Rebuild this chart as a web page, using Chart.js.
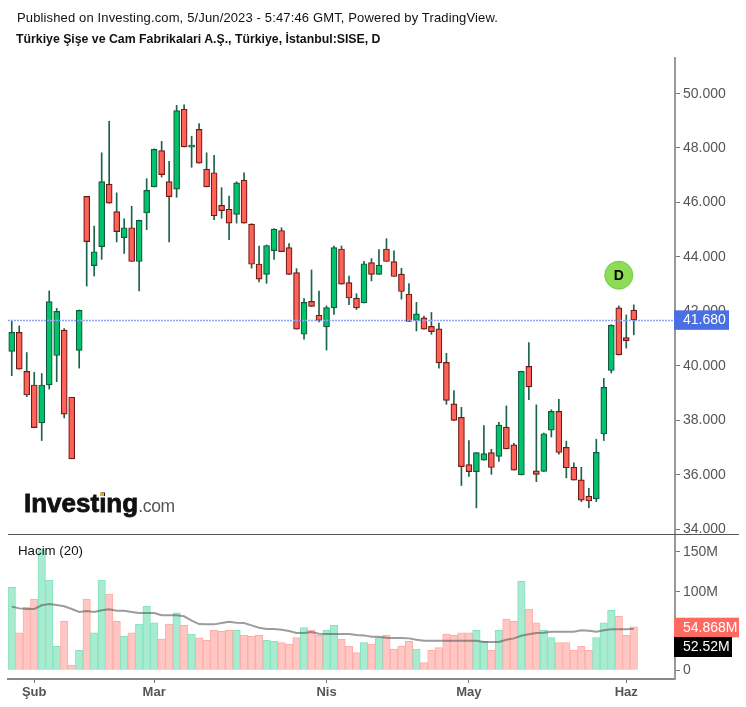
<html>
<head>
<meta charset="utf-8">
<script src="https://cdn.jsdelivr.net/npm/chart.js"></script>
<style>
    body { margin: 0; background: #fff; font-family: "Liberation Sans", Arial, sans-serif; overflow: hidden; }
    #page { position: relative; width: 746px; height: 707px; overflow: hidden; }
    canvas { position: absolute; left: 0; }
    .txt { position: absolute; white-space: nowrap; color: #111; }
</style>
</head>
<body>
<div id="page">
    <canvas id="priceChart" width="746" height="540" style="top:0"></canvas>
    <canvas id="volumeChart" width="746" height="173" style="top:534px"></canvas>
    <div class="txt" style="left:17px;top:10px;font-size:13px;letter-spacing:0.14px;line-height:15px">Published on Investing.com, 5/Jun/2023 - 5:47:46 GMT, Powered by TradingView.</div>
    <div class="txt" style="left:16px;top:32px;font-size:12.3px;font-weight:bold">Türkiye Şişe ve Cam Fabrikalari A.Ş., Türkiye, İstanbul:SISE, D</div>
    <div class="txt" style="left:18px;top:543px;font-size:13.3px">Hacim (20)</div>
    <div class="txt" style="left:24px;top:488px;font-size:26px;font-weight:bold;color:#111;-webkit-text-stroke:0.8px #111;text-shadow:0 0 3px #fff">Investing<span style="font-size:17.5px;font-weight:normal;color:#555;-webkit-text-stroke:0;letter-spacing:-0.3px">.com</span></div>
    <div style="position:absolute;left:100px;top:493px;width:4px;height:3px;background:#f5a623"></div>
</div>
<script>
    var highs = [41.64,41.46,40.48,39.75,39.71,42.74,42.10,41.36,38.84,42.04,46.21,45.12,47.81,48.97,46.34,45.39,45.85,45.34,46.86,47.96,48.23,47.50,49.55,49.57,48.42,48.88,47.81,47.72,46.53,46.22,46.75,47.08,45.21,44.39,44.43,45.03,45.06,44.48,43.56,42.46,43.51,42.74,42.19,44.39,44.39,43.29,42.64,43.83,43.93,44.26,44.66,44.21,43.57,43.01,42.32,41.82,41.95,41.56,40.45,39.08,38.47,37.25,36.81,37.80,36.93,37.92,38.52,37.15,39.80,40.85,38.56,37.52,38.38,38.76,37.23,36.43,36.27,35.50,37.30,39.53,41.50,42.19,41.86,42.23];
    var lows = [39.63,39.87,38.86,37.72,37.25,39.14,39.41,38.08,36.58,39.91,42.92,43.29,43.90,45.96,44.54,44.12,43.82,42.74,44.99,46.56,46.92,44.54,46.18,48.03,47.28,47.43,46.56,45.36,45.41,44.62,45.23,45.23,43.58,43.07,43.02,43.90,44.18,43.35,41.34,40.97,42.17,41.60,40.57,41.88,42.99,42.24,42.06,42.30,43.11,43.35,43.82,43.27,42.44,41.62,41.27,41.34,41.15,39.91,38.58,37.99,35.60,35.93,34.78,36.53,36.01,36.48,36.94,36.16,35.99,38.75,35.74,36.12,37.38,36.75,35.88,35.80,35.01,34.78,35.01,37.25,39.73,40.39,40.64,41.13];
    var opens = [40.52,41.22,39.79,39.29,37.90,39.29,40.37,41.30,38.84,40.56,46.21,43.67,44.37,46.66,45.65,44.70,45.06,43.82,45.60,46.56,47.89,46.75,46.48,49.41,48.02,48.67,47.21,47.08,45.88,45.74,45.55,46.81,45.19,43.73,43.35,44.22,44.96,44.33,43.41,41.15,42.36,41.85,41.42,42.12,44.28,43.05,42.48,42.30,43.78,43.35,44.28,43.82,43.36,42.63,41.66,41.75,41.44,41.35,40.12,38.60,38.10,36.37,36.11,36.53,36.81,36.67,37.74,37.09,35.99,39.97,36.14,36.12,37.63,38.32,37.00,36.27,35.81,35.21,35.11,37.49,39.82,42.12,41.03,42.04];
    var closes = [41.22,39.87,38.92,37.72,39.29,42.35,41.99,38.22,36.58,42.03,44.55,44.18,46.75,45.96,44.92,45.06,43.82,45.33,46.43,47.94,47.01,46.20,49.36,48.03,48.09,47.43,46.56,45.50,45.69,45.23,46.71,45.23,43.72,43.17,44.41,45.01,44.18,43.35,41.34,42.32,42.17,41.66,42.13,44.33,42.99,42.48,42.12,43.74,43.35,43.69,43.82,43.27,42.72,41.62,41.90,41.34,41.25,40.10,38.72,37.99,36.29,36.11,36.81,36.77,36.26,37.82,36.94,36.16,39.79,39.22,36.01,37.50,38.32,36.81,36.25,35.80,35.06,35.03,36.82,39.20,41.48,40.39,40.92,41.68];
    var volumes = [105,47.4,80,90.2,153,114.3,30,61.8,6.4,25,90.2,47.4,114.3,96.6,61.8,42.8,47.4,58.4,80.9,60.1,39.4,58.4,72.8,56.7,45.7,41,37.7,50.4,49.1,50.4,50.4,44,42.8,44,37.7,36.4,34.7,33,41.1,53.8,50.4,44,50.4,56.7,39.4,30.1,22,34.7,33,41.1,44,26.7,30.1,36.4,26.7,9.3,25,28.4,45.7,44,47.4,47.4,50.4,36.4,25,50.4,64.8,61.8,112.7,77.5,60.1,50.4,41.1,34.7,34.7,25,30.1,25,41.1,60.1,75.8,68.2,44,54.868];
    var volumeMA = [80.5,78.3,77.5,77.5,82.2,83.9,82.6,80.9,77.5,73.7,75,73.7,75.8,77.1,75.4,75.4,73.7,72.4,72.4,72.4,69.5,69.5,69.5,68.2,62.7,58.4,58,58,59.7,61.4,60.1,59.7,56.7,53.8,52.1,52.1,51.2,49.5,47,47,48.3,46.2,45.7,45.7,45.7,45.7,44.5,44,42.4,42.4,41.1,40.7,40.7,40.2,38.5,37.3,37.3,37.3,37.3,37.3,37.3,37.3,37.3,35.6,35.6,35.6,38.5,40.2,43.6,45.3,47,47.4,48.7,48.7,48.7,48.7,50.4,50,48.7,50.4,51.7,51.7,51.7,52.52];
    var monthIndex = [3, 19, 42, 61, 82];
    var monthNames = ['Şub', 'Mar', 'Nis', 'May', 'Haz'];
    var priceTicks = [34, 36, 38, 40, 42, 44, 46, 48, 50];
    var volumeTicks = [0, 100, 150];
    var lastPrice = 41.68;
    var lastVolume = '54.868M';
    var lastMA = '52.52M';
    var dividendIndex = 81;
    var dividendPrice = 43.32;
    var slotCount = 89;

    // category slots, the last few are empty room on the right
    var labels = [];
    for (var i = 0; i < slotCount; i++) {
        var m = monthIndex.indexOf(i);
        labels.push(m >= 0 ? monthNames[m] : '');
    }

    var isUp = closes.map(function(c, i) { return c >= opens[i]; });

    function pick(up, down) {
        return isUp.map(function(u) { return u ? up : down; });
    }

    function fixAxis(scale) {
        scale.width = 71;
        scale.paddingTop = 0;
        scale.paddingBottom = 0;
    }

    function badge(ctx, x, y, w, h, color, text) {
        ctx.fillStyle = color;
        ctx.fillRect(x, y, w, h);
        ctx.fillStyle = '#fff';
        ctx.font = '14px "Liberation Sans"';
        ctx.textAlign = 'left';
        ctx.textBaseline = 'middle';
        ctx.fillText(text, x + 9, y + h / 2 + 0.5);
    }

    var priceOverlay = {
        id: 'priceOverlay',
        afterDatasetsDraw: function(chart) {
            var ctx = chart.ctx, y = chart.scales.y.getPixelForValue(lastPrice);
            ctx.save();
            ctx.strokeStyle = '#8ca2f5';
            ctx.lineWidth = 1.5;
            ctx.setLineDash([2, 1]);
            ctx.beginPath();
            ctx.moveTo(chart.chartArea.left, Math.round(y) + 0.5);
            ctx.lineTo(chart.chartArea.right, Math.round(y) + 0.5);
            ctx.stroke();
            ctx.restore();
        },
        afterDraw: function(chart) {
            var ctx = chart.ctx, y = chart.scales.y.getPixelForValue(lastPrice);
            ctx.save();
            badge(ctx, 674, y - 9.5, 55, 19.5, '#4a6fe3', lastPrice.toFixed(3));
            // dividend marker
            var dx = chart.scales.x.getPixelForValue(dividendIndex);
            var dy = chart.scales.y.getPixelForValue(dividendPrice);
            ctx.beginPath();
            ctx.arc(dx, dy, 14, 0, Math.PI * 2);
            ctx.fillStyle = '#8cdc55';
            ctx.fill();
            ctx.strokeStyle = '#74c948';
            ctx.lineWidth = 1;
            ctx.stroke();
            ctx.fillStyle = '#000';
            ctx.font = 'bold 14px "Liberation Sans"';
            ctx.textAlign = 'center';
            ctx.textBaseline = 'middle';
            ctx.fillText('D', dx, dy + 0.5);
            ctx.restore();
        }
    };

    var volumeOverlay = {
        id: 'volumeOverlay',
        afterDraw: function(chart) {
            var ctx = chart.ctx;
            ctx.save();
            ctx.fillStyle = '#555';
            ctx.fillRect(8, 0, 731, 1);
            badge(ctx, 674, 83.7, 65, 19.6, '#ff6a60', lastVolume);
            badge(ctx, 674, 103, 58, 20, '#000', lastMA);
            ctx.restore();
        }
    };

    new Chart('priceChart', {
        data: {
            labels: labels,
            datasets: [{
                type: 'bar',
                order: 2,
                data: highs.map(function(h, i) { return [lows[i], h]; }),
                backgroundColor: pick('#1c6347', '#1c6347'),
                barThickness: 1,
                grouped: false
            }, {
                type: 'bar',
                order: 1,
                data: opens.map(function(o, i) { return [o, closes[i]]; }),
                backgroundColor: pick('#00c46c', '#ff6257'),
                borderColor: pick('#125a3e', '#6e1a16'),
                borderWidth: 1.2,
                borderSkipped: false,
                barThickness: 6,
                grouped: false
            }]
        },
        options: {
            responsive: false,
            animation: false,
            events: [],
            layout: { padding: { left: 8, top: 58, right: 0, bottom: 6 } },
            plugins: { legend: { display: false }, tooltip: { enabled: false } },
            scales: {
                x: { display: false, offset: true },
                y: {
                    position: 'right',
                    min: 33.82,
                    max: 51.29,
                    afterBuildTicks: function(scale) {
                        scale.ticks = priceTicks.map(function(v) { return { value: v }; });
                    },
                    afterFit: fixAxis,
                    border: { color: '#999', width: 2 },
                    grid: { drawOnChartArea: false, color: '#777', tickLength: 5 },
                    ticks: {
                        padding: 3,
                        labelOffset: 0.5,
                        color: '#555',
                        font: { family: 'Liberation Sans', size: 14 },
                        callback: function(v) { return v.toFixed(3); }
                    }
                }
            }
        },
        plugins: [priceOverlay]
    });

    new Chart('volumeChart', {
        data: {
            labels: labels,
            datasets: [{
                type: 'line',
                order: 1,
                data: volumeMA,
                borderColor: 'rgba(90,90,90,0.6)',
                borderWidth: 2,
                pointRadius: 0,
                tension: 0
            }, {
                type: 'bar',
                order: 2,
                data: volumes,
                backgroundColor: pick('#a7ebd0', '#ffc7c3'),
                borderColor: pick('#84e3bd', '#ffaca6'),
                borderWidth: 1,
                borderSkipped: false,
                barPercentage: 1,
                categoryPercentage: 1
            }]
        },
        options: {
            responsive: false,
            animation: false,
            events: [],
            layout: { padding: { left: 8, top: 1, right: 0, bottom: 0 } },
            plugins: { legend: { display: false }, tooltip: { enabled: false } },
            scales: {
                x: {
                    offset: true,
                    afterBuildTicks: function(scale) {
                        scale.ticks = monthIndex.map(function(v) { return { value: v }; });
                    },
                    afterFit: function(scale) {
                        scale.height = 28;
                        scale.paddingLeft = 0;
                        scale.paddingRight = 0;
                    },
                    border: { color: '#888', width: 2 },
                    grid: { drawOnChartArea: false, offset: false, color: '#777', tickLength: 4 },
                    ticks: {
                        autoSkip: false,
                        maxRotation: 0,
                        padding: 2,
                        color: '#555',
                        font: { family: 'Liberation Sans', size: 13, weight: 'bold' }
                    }
                },
                y: {
                    position: 'right',
                    min: -11.4,
                    max: 171.5,
                    afterBuildTicks: function(scale) {
                        scale.ticks = volumeTicks.map(function(v) { return { value: v }; });
                    },
                    afterFit: fixAxis,
                    border: { color: '#999', width: 2 },
                    grid: { drawOnChartArea: false, color: '#777', tickLength: 5 },
                    ticks: {
                        padding: 3,
                        labelOffset: 0.5,
                        color: '#555',
                        font: { family: 'Liberation Sans', size: 14 },
                        callback: function(v) { return v ? v + 'M' : '0'; }
                    }
                }
            }
        },
        plugins: [volumeOverlay]
    });
</script>
</body>
</html>
